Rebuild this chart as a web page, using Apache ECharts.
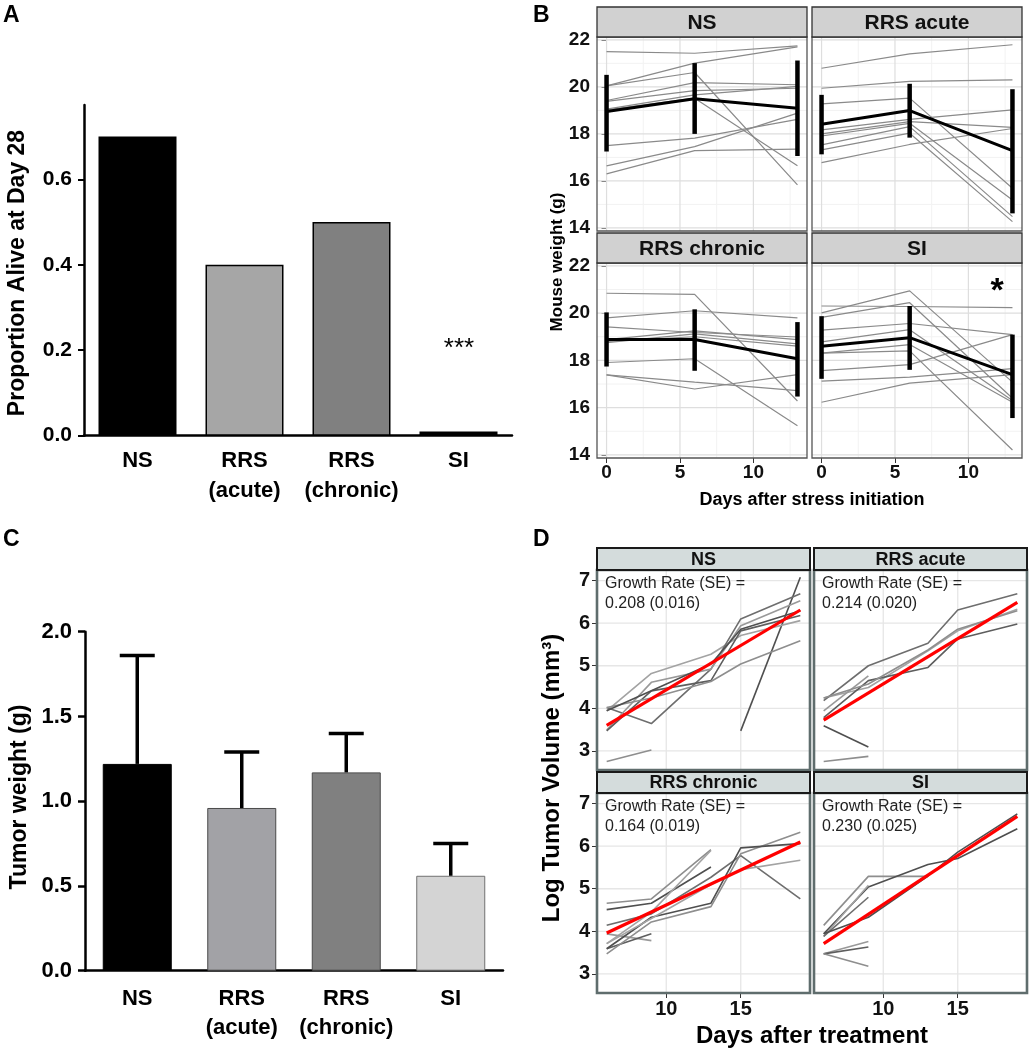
<!DOCTYPE html>
<html><head><meta charset="utf-8">
<script src="https://cdn.jsdelivr.net/npm/echarts@6/dist/echarts.min.js"></script>
<style>html,body{margin:0;padding:0;background:#fff}#c{width:1030px;height:1050px}</style>
</head><body><div id="c"></div>
<script>
// ================= DATA =================
const groupNames = ['NS', 'RRS acute', 'RRS chronic', 'SI'];

// Panel A: survival
const survivalCategories = ['NS', 'RRS\n(acute)', 'RRS\n(chronic)', 'SI'];
const survivalProportion = [0.70, 0.40, 0.50, 0.01];
const survivalTicks = [0, 0.2, 0.4, 0.6];

// Panel C: tumor weight
const tumorCategories = ['NS', 'RRS\n(acute)', 'RRS\n(chronic)', 'SI'];
const tumorWeightMean = [1.22, 0.96, 1.17, 0.56];
const tumorWeightSE = [0.64, 0.33, 0.23, 0.19];

// Panel B: mouse weight (days 0, 6, 13)
const weightDays = [0, 6, 13];
const weightTicksX = [0, 5, 10];
const weightMinorX = [2.5, 7.5, 12.5];
const weightTicksY = [14, 16, 18, 20, 22];
const weightMinorY = [15, 17, 19, 21];

const weightNS = [
  [21.50, 21.43, 21.74], [20.04, 21.01, 21.70], [20.04, 20.61, 15.83],
  [19.42, 20.18, 20.09], [19.38, 19.84, 19.94], [19.05, 19.66, 20.02],
  [19.02, 19.52, 16.65], [17.50, 17.82, 18.62], [16.64, 17.46, 18.88],
  [16.30, 17.29, 17.35]
];
const weightRRSacute = [
  [20.79, 21.40, 21.79], [19.94, 20.23, 20.30], [19.28, 19.52, 15.69],
  [18.17, 18.62, 19.02], [18.00, 18.52, 18.28], [17.91, 18.45, 15.19],
  [17.53, 18.31, 14.48], [17.32, 18.03, 14.27], [16.78, 17.55, 18.23]
];
const weightRRSchronic = [
  [20.84, 20.79, 16.28], [19.80, 20.10, 19.80], [19.42, 19.18, 18.99],
  [18.75, 19.12, 18.70], [18.80, 19.00, 18.60], [18.88, 19.25, 18.88],
  [17.91, 18.07, 15.23], [17.39, 16.79, 17.40], [17.39, 17.08, 16.72]
];
const weightSI = [
  [20.30, 20.28, 20.23], [20.01, 20.94, 17.08], [19.82, 20.44, 16.40],
  [19.28, 19.56, 19.09], [18.78, 19.30, 16.30], [18.31, 18.67, 16.23],
  [18.31, 18.40, 14.21], [17.57, 17.82, 19.09], [17.12, 17.29, 17.65],
  [16.23, 17.04, 17.40]
];
const weightMean = [[18.95, 19.49, 19.09], [18.41, 18.99, 17.29], [18.88, 18.88, 18.07], [18.60, 18.96, 17.40]];
const weightLow  = [[17.25, 18.00, 17.06], [17.13, 17.84, 14.62], [17.74, 17.56, 16.47], [17.22, 17.60, 15.56]];
const weightHigh = [[20.51, 21.01, 21.12], [19.66, 20.13, 19.90], [20.03, 20.16, 19.62], [19.87, 20.30, 19.09]];

// Panel D: log tumor volume (days 6, 9, 13, 15, 19)
const tumorDays = [6, 9, 13, 15, 19];
const tumorTicksX = [10, 15];
const tumorTicksY = [3, 4, 5, 6, 7];
const volNS = [
  [2.75, 3.02, null, null, null], [null, null, null, 3.47, 7.08],
  [3.94, 4.82, 5.27, 5.71, 6.06], [4.02, 3.64, 4.92, 6.10, 6.69],
  [3.49, 4.61, 4.92, 5.94, 6.53], [3.47, 4.41, 4.65, 5.82, 6.18],
  [4.02, 4.24, 4.63, 5.04, 5.59], [3.94, 4.41, 5.04, 5.86, 6.29]
];
const volRRSacute = [
  [2.75, 2.87, null, null, null], [3.59, 3.09, null, null, null],
  [4.24, 4.49, 5.35, 5.82, 6.33], [4.18, 5.00, 5.53, 6.31, 6.69],
  [3.94, 4.76, null, null, null], [3.78, 4.65, 4.96, 5.63, 5.98],
  [4.24, 4.57, 5.37, 5.86, 6.29]
];
const volRRSchronic = [
  [4.66, 4.76, 5.92, null, null], [4.51, 4.66, 5.51, null, null],
  [3.71, 4.45, 5.90, null, null], [4.14, 4.41, 5.27, 5.78, 4.76],
  [3.94, 3.78, null, null, null], [3.59, 3.94, null, null, null],
  [3.47, 4.22, 4.58, 5.82, 6.33], [3.59, 4.33, 4.66, 5.96, 6.06],
  [3.71, 4.30, 5.10, 5.45, 5.67]
];
const volSI = [
  [4.14, 5.29, 5.29, null, null], [3.94, 5.04, 5.57, 5.71, 6.41],
  [3.88, 5.08, null, null, null], [3.88, 4.80, null, null, null],
  [3.47, 3.76, null, null, null], [3.47, 3.63, null, null, null],
  [3.47, 3.18, null, null, null], [3.94, 4.33, 5.30, 5.86, 6.76]
];
const fitDays = [6, 19];
const fitValues = [[3.60, 6.31], [3.72, 6.49], [3.96, 6.10], [3.71, 6.70]];
const growthRate = [0.208, 0.214, 0.164, 0.230];
const growthSE = [0.016, 0.020, 0.019, 0.025];

// ================= STYLE / LAYOUT =================
const F = '"Liberation Sans", Arial, Helvetica, sans-serif';
const colorsA = ['#000000', '#a6a6a6', '#808080', '#000000'];
const colorsC = ['#000000', '#a2a2a6', '#808080', '#d4d4d4'];
const bordersC = ['#000000', '#4a4a4a', '#4a4a4a', '#707070'];
const layoutB = [[597, 37, 210, 194], [812, 37, 210, 194], [597, 263, 210, 195], [812, 263, 210, 195]];
const stripB = [[597, 7, 210, 30], [812, 7, 210, 30], [597, 233, 210, 30], [812, 233, 210, 30]];
const layoutD = [[597, 570, 213, 200], [814, 570, 213, 200], [597, 793, 213, 200], [814, 793, 213, 200]];
const stripD = [[597, 548, 213, 22], [814, 548, 213, 22], [597, 772, 213, 21], [814, 772, 213, 21]];
const grayShades = ['#8e8e8e', '#4f4f4f', '#a3a3a3', '#6e6e6e', '#999999', '#5e5e5e'];

const grids = [], xAxes = [], yAxes = [], series = [], graphics = [];

function boldLabel(size, extra) {
  return Object.assign({ color: '#000', fontWeight: 'bold', fontSize: size, fontFamily: F }, extra || {});
}
function gridLineSeries(gi, xs, ys, color, width) {
  const data = xs.map(v => [v, 0]).concat(ys.map(v => [v, 1]));
  return {
    type: 'custom', xAxisIndex: gi, yAxisIndex: gi, silent: true, z: 1, animation: false,
    data: data,
    renderItem: (params, api) => {
      const cs = params.coordSys;
      const v = api.value(0), dir = api.value(1);
      if (dir === 0) {
        const x = api.coord([v, 0])[0];
        return { type: 'line', shape: { x1: x, y1: cs.y, x2: x, y2: cs.y + cs.height }, style: { stroke: color, lineWidth: width } };
      }
      const y = api.coord([0, v])[1];
      return { type: 'line', shape: { x1: cs.x, y1: y, x2: cs.x + cs.width, y2: y }, style: { stroke: color, lineWidth: width } };
    }
  };
}
function txt(x, y, text, font, opts) {
  return Object.assign({
    type: 'text', x: x, y: y, z: 120,
    style: Object.assign({ text: text, font: font, fill: '#000', align: 'center', verticalAlign: 'middle' }, (opts && opts.style) || {})
  }, (opts && opts.el) || {});
}

// ---------- Panel A ----------
grids.push({ left: 84, top: 105, width: 428, height: 330.7 });
xAxes.push({
  type: 'category', gridIndex: 0, data: survivalCategories,
  axisLine: { lineStyle: { color: '#000', width: 2.5 } },
  axisTick: { alignWithLabel: true, length: 6, lineStyle: { color: '#000', width: 2 } },
  axisLabel: boldLabel(22, { margin: 10, lineHeight: 30, interval: 0, hideOverlap: false })
});
yAxes.push({
  type: 'value', gridIndex: 0, min: 0, max: 0.774,
  axisLine: { show: true, lineStyle: { color: '#000', width: 2.5 } },
  axisTick: { show: true, customValues: survivalTicks, length: 6, lineStyle: { color: '#000', width: 2 } },
  axisLabel: boldLabel(21, { customValues: survivalTicks, margin: 12, formatter: v => v.toFixed(1) }),
  splitLine: { show: false }
});
series.push({
  type: 'bar', xAxisIndex: 0, yAxisIndex: 0, barWidth: 78, animation: false,
  data: survivalProportion.map((v, i) => ({ value: v, itemStyle: { color: colorsA[i], borderColor: '#000', borderWidth: 1.5 } }))
});

// ---------- Panel C ----------
grids.push({ left: 85, top: 631.7, width: 418, height: 339 });
xAxes.push({
  type: 'category', gridIndex: 1, data: tumorCategories,
  axisLine: { lineStyle: { color: '#000', width: 2.5 } },
  axisTick: { alignWithLabel: true, length: 7, lineStyle: { color: '#000', width: 2.5 } },
  axisLabel: boldLabel(22, { margin: 14, lineHeight: 29, interval: 0, hideOverlap: false })
});
yAxes.push({
  type: 'value', gridIndex: 1, min: 0, max: 2, interval: 0.5,
  axisLine: { show: true, lineStyle: { color: '#000', width: 2.5 } },
  axisTick: { show: true, length: 7, lineStyle: { color: '#000', width: 2.5 } },
  axisLabel: boldLabel(22, { margin: 13, formatter: v => v.toFixed(1) }),
  splitLine: { show: false }
});
series.push({
  type: 'bar', xAxisIndex: 1, yAxisIndex: 1, barWidth: 69, animation: false,
  data: tumorWeightMean.map((v, i) => ({ value: v, itemStyle: { color: colorsC[i], borderColor: bordersC[i], borderWidth: 1 } }))
});
series.push({
  type: 'custom', xAxisIndex: 1, yAxisIndex: 1, z: 5, animation: false, silent: true,
  data: tumorWeightMean.map((m, i) => [i, m, m + tumorWeightSE[i]]),
  renderItem: (params, api) => {
    const b = api.coord([api.value(0), api.value(1)]);
    const t = api.coord([api.value(0), api.value(2)]);
    return { type: 'group', children: [
      { type: 'line', shape: { x1: b[0], y1: b[1], x2: t[0], y2: t[1] }, style: { stroke: '#000', lineWidth: 3.5 } },
      { type: 'line', shape: { x1: t[0] - 17.5, y1: t[1], x2: t[0] + 17.5, y2: t[1] }, style: { stroke: '#000', lineWidth: 3.5 } }
    ] };
  }
});

// ---------- Panel B ----------
const weightGroups = [weightNS, weightRRSacute, weightRRSchronic, weightSI];
layoutB.forEach((L, k) => {
  const gi = grids.length;
  const bottom = k >= 2, left = k % 2 === 0;
  grids.push({ left: L[0], top: L[1], width: L[2], height: L[3], show: true, backgroundColor: '#fff', borderColor: 'transparent' });
  xAxes.push({
    type: 'value', gridIndex: gi, min: -0.65, max: 13.65,
    axisLine: { show: false }, splitLine: { show: false },
    axisTick: { show: bottom, customValues: weightTicksX, length: 5, lineStyle: { color: '#333', width: 1 } },
    axisLabel: boldLabel(19, { show: bottom, customValues: weightTicksX, margin: 5, color: '#111' })
  });
  yAxes.push({
    type: 'value', gridIndex: gi, min: 13.87, max: 22.12,
    axisLine: { show: false }, splitLine: { show: false },
    axisTick: { show: left, customValues: weightTicksY, length: 5, lineStyle: { color: '#333', width: 1 } },
    axisLabel: boldLabel(19, { show: left, customValues: weightTicksY, margin: 7, color: '#111' })
  });
  series.push(gridLineSeries(gi, weightMinorX, weightMinorY, '#f2f2f2', 1));
  series.push(gridLineSeries(gi, weightTicksX, weightTicksY, '#dedede', 1.2));
  weightGroups[k].forEach(row => {
    series.push({
      type: 'line', xAxisIndex: gi, yAxisIndex: gi, symbol: 'none', silent: true, animation: false, z: 3,
      lineStyle: { color: '#8a8a8a', width: 1.2 },
      data: row.map((v, j) => [weightDays[j], v])
    });
  });
  series.push({
    type: 'line', xAxisIndex: gi, yAxisIndex: gi, symbol: 'none', silent: true, animation: false, z: 5,
    lineStyle: { color: '#000', width: 3 },
    data: weightMean[k].map((v, j) => [weightDays[j], v])
  });
  series.push({
    type: 'custom', xAxisIndex: gi, yAxisIndex: gi, z: 6, silent: true, animation: false,
    data: weightDays.map((d, j) => [d, weightLow[k][j], weightHigh[k][j]]),
    renderItem: (params, api) => {
      const a = api.coord([api.value(0), api.value(1)]);
      const b = api.coord([api.value(0), api.value(2)]);
      return { type: 'line', shape: { x1: a[0], y1: a[1], x2: b[0], y2: b[1] }, style: { stroke: '#000', lineWidth: 4.5 } };
    }
  });
  graphics.push({ type: 'rect', z: 110, shape: { x: L[0], y: L[1], width: L[2], height: L[3] }, style: { fill: 'none', stroke: '#555', lineWidth: 1.3 } });
  const S = stripB[k];
  graphics.push({ type: 'rect', z: 110, shape: { x: S[0], y: S[1], width: S[2], height: S[3] }, style: { fill: '#d1d1d1', stroke: '#333', lineWidth: 1.3 } });
  graphics.push(txt(S[0] + S[2] / 2, S[1] + S[3] / 2 + 1, groupNames[k], 'bold 21px ' + F, { style: { fill: '#111' } }));
});

// ---------- Panel D ----------
const volGroups = [volNS, volRRSacute, volRRSchronic, volSI];
layoutD.forEach((L, k) => {
  const gi = grids.length;
  const bottom = k >= 2, left = k % 2 === 0;
  grids.push({ left: L[0], top: L[1], width: L[2], height: L[3], show: true, backgroundColor: '#fff', borderColor: 'transparent' });
  xAxes.push({
    type: 'value', gridIndex: gi, min: 5.35, max: 19.65,
    axisLine: { show: false }, splitLine: { show: false },
    axisTick: { show: bottom, customValues: tumorTicksX, length: 5, lineStyle: { color: '#333', width: 1 } },
    axisLabel: boldLabel(20, { show: bottom, customValues: tumorTicksX, margin: 6, color: '#111' })
  });
  yAxes.push({
    type: 'value', gridIndex: gi, min: 2.55, max: 7.25,
    axisLine: { show: false }, splitLine: { show: false },
    axisTick: { show: left, customValues: tumorTicksY, length: 5, lineStyle: { color: '#333', width: 1 } },
    axisLabel: boldLabel(20, { show: left, customValues: tumorTicksY, margin: 7, color: '#111' })
  });
  series.push(gridLineSeries(gi, tumorTicksX, tumorTicksY, '#e6e6e6', 1.3));
  volGroups[k].forEach((row, r) => {
    const pts = [];
    row.forEach((v, j) => { if (v !== null) pts.push([tumorDays[j], v]); });
    series.push({
      type: 'line', xAxisIndex: gi, yAxisIndex: gi, symbol: 'none', silent: true, animation: false, z: 3,
      lineStyle: { color: grayShades[r % grayShades.length], width: 1.6 },
      data: pts
    });
  });
  series.push({
    type: 'line', xAxisIndex: gi, yAxisIndex: gi, symbol: 'none', silent: true, animation: false, z: 6,
    lineStyle: { color: '#ff0000', width: 3.2 },
    data: fitDays.map((d, j) => [d, fitValues[k][j]])
  });
  graphics.push({ type: 'rect', z: 110, shape: { x: L[0], y: L[1], width: L[2], height: L[3] }, style: { fill: 'none', stroke: '#5f6d6d', lineWidth: 2.6 } });
  const S = stripD[k];
  graphics.push({ type: 'rect', z: 111, shape: { x: S[0], y: S[1], width: S[2], height: S[3] }, style: { fill: '#d4dcdc', stroke: '#1a1a1a', lineWidth: 2 } });
  graphics.push(txt(S[0] + S[2] / 2, S[1] + S[3] / 2 + 1, groupNames[k], 'bold 18px ' + F, { style: { fill: '#111' } }));
  graphics.push(txt(L[0] + 8, L[1] + 14, 'Growth Rate (SE) =\n' + growthRate[k].toFixed(3) + ' (' + growthSE[k].toFixed(3) + ')',
    '16px ' + F, { style: { align: 'left', verticalAlign: 'top', fill: '#222', lineHeight: 20 }, el: { y: L[1] + 4 } }));
});

// ---------- Titles & annotations ----------
graphics.push(txt(3, 4, 'A', 'bold 23px ' + F, { style: { align: 'left', verticalAlign: 'top' } }));
graphics.push(txt(533, 4, 'B', 'bold 23px ' + F, { style: { align: 'left', verticalAlign: 'top' } }));
graphics.push(txt(3, 528, 'C', 'bold 23px ' + F, { style: { align: 'left', verticalAlign: 'top' } }));
graphics.push(txt(533, 528, 'D', 'bold 23px ' + F, { style: { align: 'left', verticalAlign: 'top' } }));
graphics.push(txt(18, 273, 'Proportion Alive at Day 28', 'bold 23px ' + F, { el: { rotation: Math.PI / 2 } }));
graphics.push(txt(459, 349, '***', '26px ' + F));
graphics.push(txt(20, 797, 'Tumor weight (g)', 'bold 23px ' + F, { el: { rotation: Math.PI / 2 } }));
graphics.push(txt(557, 262, 'Mouse weight (g)', 'bold 17px ' + F, { el: { rotation: Math.PI / 2 } }));
graphics.push(txt(812, 500, 'Days after stress initiation', 'bold 18px ' + F));
graphics.push(txt(997, 292, '*', 'bold 34px ' + F));
graphics.push(txt(552, 778, 'Log Tumor Volume (mm\u00B3)', 'bold 24px ' + F, { el: { rotation: Math.PI / 2 } }));
graphics.push(txt(812, 1036, 'Days after treatment', 'bold 24px ' + F));

const chart = echarts.init(document.getElementById('c'), null, { renderer: 'canvas' });
chart.setOption({
  animation: false,
  backgroundColor: '#ffffff',
  grid: grids, xAxis: xAxes, yAxis: yAxes, series: series,
  graphic: { elements: graphics }
});
</script></body></html>
